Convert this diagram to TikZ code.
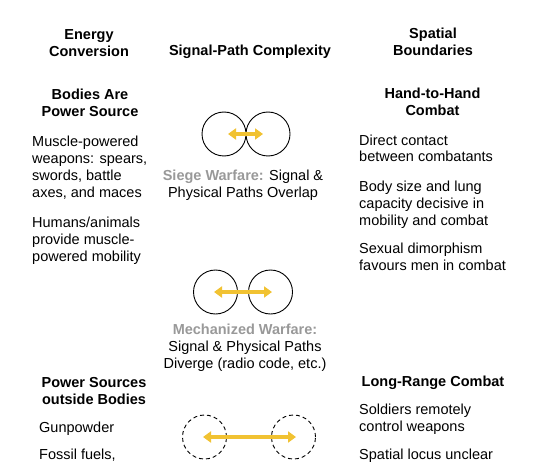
\documentclass[tikz,border=0pt]{standalone}
\usepackage{fontspec}
\setmainfont{Liberation Sans}
\usepackage{tikz}
\usetikzlibrary{arrows.meta, positioning}
\definecolor{signalyellow}{HTML}{F1C232}
\definecolor{labelgray}{HTML}{999999}

\begin{document}
\begin{tikzpicture}[
    x=1pt, y=-1pt,
    every node/.style={inner sep=0pt, font=\fontsize{14.5}{17}\selectfont},
    colhead/.style={align=center, anchor=base, font=\fontsize{14.5}{17}\selectfont\bfseries},
    para/.style={align=left, anchor=base west},
    midtext/.style={align=center, anchor=base},
    ring/.style={circle, draw=black, line width=0.9pt, minimum size=44pt},
    dashring/.style={ring, dashed, dash pattern=on 4pt off 3pt},
    signal/.style={line width=3.2pt, draw=signalyellow, {Triangle[length=8pt,width=11pt]}-{Triangle[length=8pt,width=11pt]}}
]
\useasboundingbox (0,0) rectangle (534,462);

% headings (multi-line nodes sit on their last baseline)
\node (energyhead) [colhead] at (89,57) {Energy\\Conversion};
\node (signalhead) [colhead] at (250,56) {Signal-Path Complexity};
\node (spatialhead) [colhead] at (433,56) {Spatial\\Boundaries};

% left column
\node (bodieshead) [colhead] at (90,117) {Bodies Are\\Power Source};
\node (musclepar) [para] at (32,197) {Muscle-powered\\weapons: spears,\\swords, battle\\axes, and maces};
\node (humanspar) [para] at (32,261) {Humans/animals\\provide muscle-\\powered mobility};
\node (outsidehead) [colhead] at (94,404) {Power Sources\\outside Bodies};
\node (gunpar) [para] at (39,432) {Gunpowder};
\node (fossilpar) [para] at (39,459) {Fossil fuels,};

% right column
\node (handhead) [colhead] at (432.5,116) {Hand-to-Hand\\Combat};
\node (directpar) [para] at (359,162) {Direct contact\\between combatants};
\node (bodysizepar) [para] at (359,225) {Body size and lung\\capacity decisive in\\mobility and combat};
\node (dimorphpar) [para] at (359,270) {Sexual dimorphism\\favours men in combat};
\node (longhead) [colhead] at (433,386) {Long-Range Combat};
\node (soldierspar) [para] at (359,431) {Soldiers remotely\\control weapons};
\node (locuspar) [para] at (359,459) {Spatial locus unclear};

% middle column
\node (siegeL) [ring] at (224,134) {};
\node (siegeR) [ring] at (268,134) {};
\node (siegelabel) [midtext] at (243,197) {\textcolor{labelgray}{\bfseries Siege Warfare:} Signal \&\\Physical Paths Overlap};
\node (mechL) [ring] at (215.5,292) {};
\node (mechR) [ring] at (270.5,292) {};
\node (mechlabel) [midtext] at (245,368) {\textcolor{labelgray}{\bfseries Mechanized Warfare:}\\Signal \& Physical Paths\\Diverge (radio code, etc.)};
\node (remoteL) [dashring] at (204.5,437) {};
\node (remoteR) [dashring] at (293.5,437) {};

% signal arrows
\draw [signal, shorten <=4pt, shorten >=5pt] (siegeL.center) -- (siegeR.center);
\draw [signal, shorten <=-1.5pt, shorten >=-1.5pt] (mechL.center) -- (mechR.center);
\draw [signal, shorten <=-1.5pt, shorten >=-2.5pt] (remoteL.center) -- (remoteR.center);

\end{tikzpicture}
\end{document}
